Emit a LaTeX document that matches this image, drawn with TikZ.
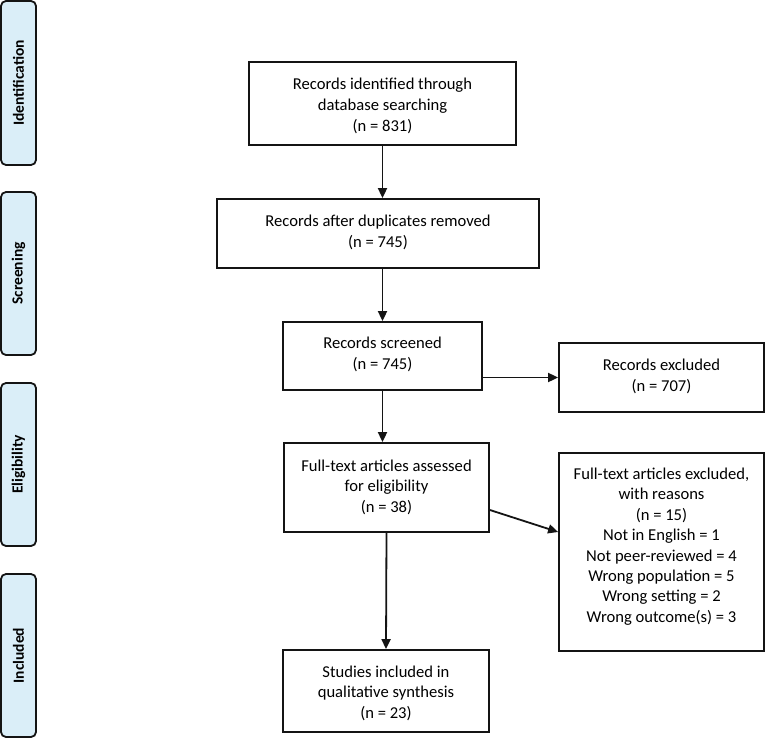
\documentclass[tikz,border=0pt]{standalone}
\usepackage{fontspec}
\setmainfont{Carlito}
\usetikzlibrary{arrows.meta,calc}
\definecolor{sideblue}{RGB}{218,238,248}
\definecolor{lineblk}{RGB}{20,20,20}
\begin{document}
\begin{tikzpicture}[x=1pt,y=-1pt,
  box/.style={draw=lineblk,line width=1.8pt,rectangle,inner sep=0pt},
  txt/.style={align=center,font=\fontsize{16.6}{21}\selectfont},
  side/.style={draw=lineblk,line width=1.8pt,rectangle,rounded corners=5pt,fill=sideblue,
    minimum width=35pt,inner sep=0pt},
  sidetext/.style={rotate=90,font=\fontsize{15.5}{18}\selectfont\bfseries},
  arr/.style={line width=1.8pt,draw=lineblk,-{Triangle[length=10pt,width=9pt]}}]
\useasboundingbox (0,0) rectangle (765,738);
\fill[white] (0,0) rectangle (765,738);
% side labels
\node[side,minimum height=164pt] (sid) at (18.5,83) {};
\node[sidetext] (tid) at (sid) {Identification};
\node[side,minimum height=163pt] (ssc) at (18.5,273.5) {};
\node[sidetext] (tsc) at (ssc) {Screening};
\node[side,minimum height=163pt] (sel) at (18.5,464.5) {};
\node[sidetext] (tel) at (sel) {Eligibility};
\node[side,minimum height=163pt] (sin) at (18.5,655.5) {};
\node[sidetext] (tin) at (sin) {Included};
% boxes
\node[box,minimum width=267pt,minimum height=83pt] (b1) at (382.5,103.5) {};
\node[txt] (t1) at (382.5,106) {Records identified through\\database searching\\(n = 831)};
\node[box,minimum width=322pt,minimum height=69pt] (b2) at (378,233.5) {};
\node[txt] (t2) at (378,232) {Records after duplicates removed\\(n = 745)};
\node[box,minimum width=199pt,minimum height=68pt] (b3) at (382.5,356) {};
\node[txt] (t3) at (382.5,354) {Records screened\\(n = 745)};
\node[box,minimum width=205pt,minimum height=69pt] (ex1) at (661.5,377.5) {};
\node[txt] (te1) at (661.5,376) {Records excluded\\(n = 707)};
\node[box,minimum width=205pt,minimum height=89pt] (b4) at (386.5,487.5) {};
\node[txt,font=\fontsize{16.6}{20.5}\selectfont] (t4) at (386.5,487) {Full-text articles assessed\\for eligibility\\(n = 38)};
\node[box,minimum width=205pt,minimum height=198pt] (ex2) at (661.5,552) {};
\node[txt,font=\fontsize{16.6}{20.4}\selectfont] (te2) at (661.5,546.5) {Full-text articles excluded,\\with reasons\\(n = 15)\\Not in English = 1\\Not peer-reviewed = 4\\Wrong population = 5\\Wrong setting = 2\\Wrong outcome(s) = 3};
\node[box,minimum width=206pt,minimum height=82pt] (b5) at (386,691) {};
\node[txt,font=\fontsize{16.6}{20.5}\selectfont] (t5) at (386,693) {Studies included in\\qualitative synthesis\\(n = 23)};
% connectors
\draw[arr] (b1.south) -- (b1.south |- b2.north);
\draw[arr] (b3.north |- b2.south) -- (b3.north);
\draw[arr] (b3.south) -- (b3.south |- b4.north);
\draw[arr] (ex1.west -| b3.east) -- (ex1.west);
\draw[arr] (b4.south) -- (b5.north);
\draw[arr] ([yshift=-22.5pt]b4.east) -- ([yshift=20pt]ex2.west);
\end{tikzpicture}
\end{document}
